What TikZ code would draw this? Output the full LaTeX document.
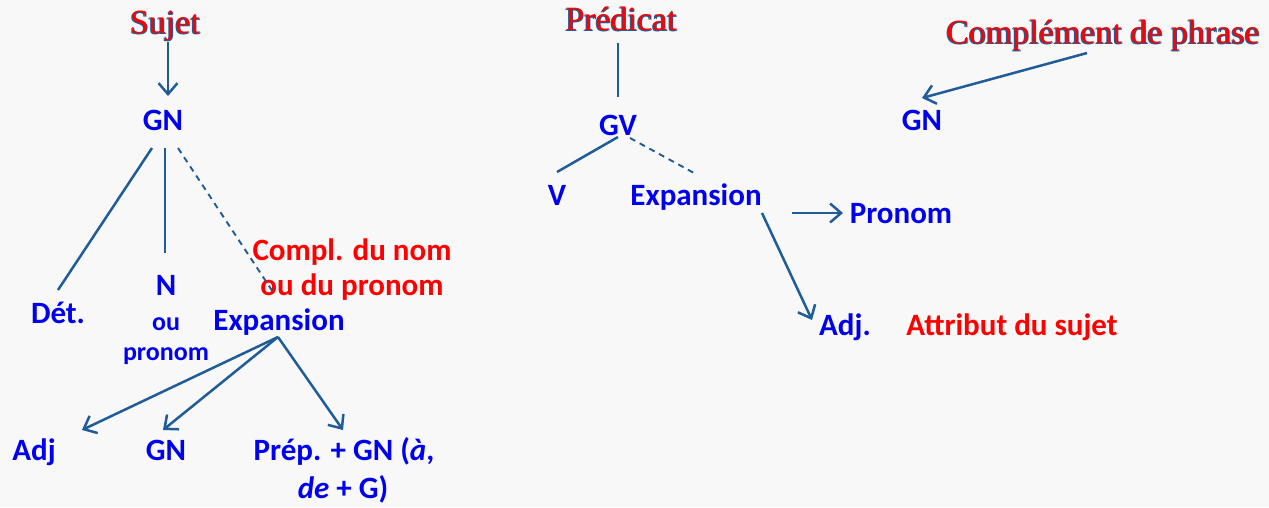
\documentclass[tikz,border=0pt]{standalone}
\usepackage{fontspec}
\setmainfont{Carlito}
\newfontfamily\titlefont{Liberation Serif}
\usetikzlibrary{arrows.meta}
\definecolor{lineblue}{HTML}{1F5C99}
\definecolor{txtblue}{HTML}{0000F0}
\definecolor{txtred}{HTML}{FF0000}
\definecolor{bgcol}{HTML}{F8F8F8}
\begin{document}
\begin{tikzpicture}[x=1pt,y=-1pt,
  lbl/.style={font=\fontsize{31}{37}\selectfont\bfseries, text=txtblue, inner sep=0pt, anchor=base},
  small/.style={lbl, font=\fontsize{26}{31}\selectfont\bfseries},
  rlbl/.style={lbl, text=txtred},
  ttl/.style={font=\titlefont\fontsize{34}{40}\selectfont, text=txtred, inner sep=0pt, anchor=base},
  ttlsh/.style={ttl, text=lineblue},
  conn/.style={draw=lineblue, line width=2.5pt},
  dconn/.style={draw=lineblue, line width=1.9pt, dash pattern=on 6pt off 5pt},
  arr/.style={conn, -{Straight Barb[length=11pt, width=19pt, line width=2.5pt]}}
]
\fill[bgcol] (0,0) rectangle (1269,507);
\useasboundingbox (0,0) rectangle (1269,507);

% titles with shadow
\node[ttlsh] at (164,34.3) {Sujet};
\node[ttlsh] at (165.8,34.3) {Sujet};
\node[ttl] (sujet) at (165,33) {Sujet};
\node[ttlsh] at (620,31.3) {Prédicat};
\node[ttlsh] at (621.8,31.3) {Prédicat};
\node[ttl] (pred) at (621,30) {Prédicat};
\node[ttlsh] at (1102,44.3) {Complément de phrase};
\node[ttlsh] at (1103.8,44.3) {Complément de phrase};
\node[ttl] (cphr) at (1103,43) {Complément de phrase};

% left tree
\node[lbl] (gn) at (163,130) {GN};
\node[lbl] (det) at (58,323) {Dét.};
\node[lbl] (n) at (166,295) {N};
\node[small] (ou) at (166,330) {ou};
\node[small] (pron) at (166,360) {pronom};
\node[lbl] (exp) at (279,330) {Expansion};
\node[rlbl] (cdn1) at (352,260) {Compl. du nom};
\node[rlbl] (cdn2) at (352,295) {ou du pronom};
\node[lbl] (adj) at (34,460) {Adj};
\node[lbl] (gn2) at (166,460) {GN};
\node[lbl] (prep1) at (344,460) {Prép. + GN (\textit{à},};
\node[lbl] (prep2) at (343,498) {\textit{de} + G)};

% right tree
\node[lbl] (gv) at (618,135) {GV};
\node[lbl] (v) at (557,205) {V};
\node[lbl] (exp2) at (696,205) {Expansion};
\node[lbl] (pronom) at (901,223) {Pronom};
\node[lbl] (adj2) at (845,335) {Adj.};
\node[rlbl] (attr) at (1012,335) {Attribut du sujet};
\node[lbl] (gn3) at (922,130) {GN};

% connector end points
\coordinate (sujetS) at (168,42);
\coordinate (gnN) at (168,96);
\coordinate (gnS1) at (152,148);
\coordinate (gnS2) at (165,148);
\coordinate (gnS3) at (178,148);
\coordinate (detN) at (58,290);
\coordinate (nN) at (165,253);
\coordinate (expN) at (273,292);
\coordinate (expS) at (278,337);
\coordinate (adjN) at (82,430);
\coordinate (gn2N) at (163,430);
\coordinate (prepN) at (343,430);
\coordinate (predS) at (618,43);
\coordinate (gvN) at (618,97);
\coordinate (gvS1) at (618,137);
\coordinate (gvS2) at (630,138);
\coordinate (vN) at (557,172);
\coordinate (exp2N) at (694,173);
\coordinate (exp2E) at (792,213);
\coordinate (pronomW) at (843,213);
\coordinate (exp2S) at (762,213);
\coordinate (adj2N) at (812,320);
\coordinate (cphrS) at (1087,53);
\coordinate (gn3N) at (922,98);

% connectors
\draw[arr] (sujetS) -- (gnN);
\draw[conn] (gnS1) -- (detN);
\draw[conn] (gnS2) -- (nN);
\draw[dconn] (gnS3) -- (expN);
\draw[arr] (expS) -- (adjN);
\draw[arr] (expS) -- (gn2N);
\draw[arr] (expS) -- (prepN);
\draw[conn] (predS) -- (gvN);
\draw[conn] (gvS1) -- (vN);
\draw[dconn] (gvS2) -- (exp2N);
\draw[arr] (exp2E) -- (pronomW);
\draw[arr] (exp2S) -- (adj2N);
\draw[arr] (cphrS) -- (gn3N);
\end{tikzpicture}
\end{document}
